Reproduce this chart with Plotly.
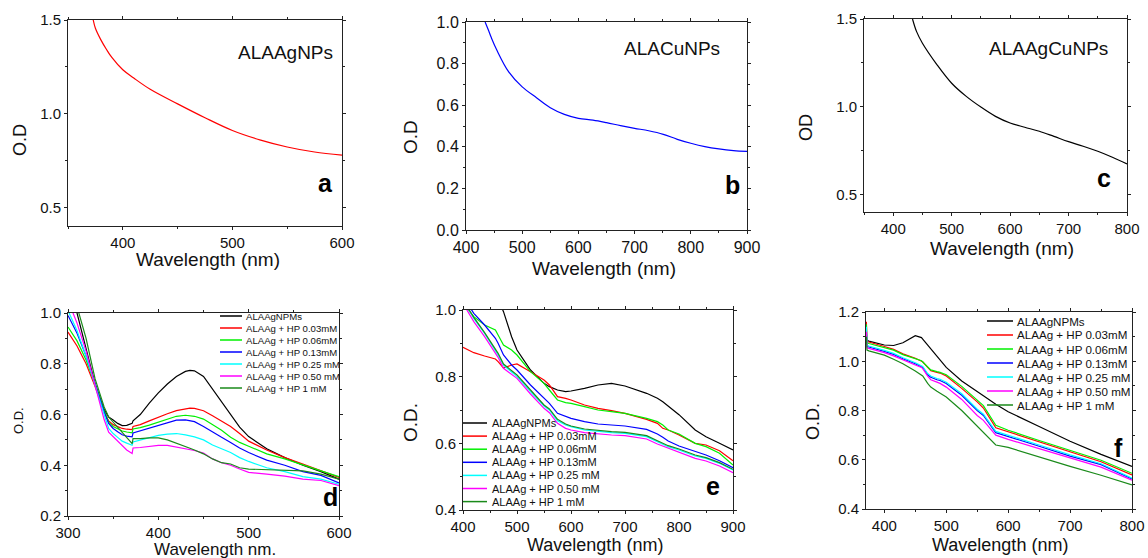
import plotly.graph_objects as go

W, H = 1148, 558
FONT = "Liberation Sans, Arial, sans-serif"

# ---------------- data ----------------
# panel a : ALAAgNPs
wl_a = [373, 375, 380, 385, 390, 400, 410, 425, 450, 475, 500, 525, 550, 575, 600]
od_a = [1.50, 1.456, 1.394, 1.344, 1.30, 1.234, 1.19, 1.13, 1.052, 0.978, 0.91, 0.86, 0.822, 0.795, 0.778]

# panel b : ALACuNPs
wl_b = [434, 440, 445, 455, 476, 500, 526, 550, 575, 600, 626, 650, 675, 700, 725, 751, 776, 800, 825, 850, 876, 900]
od_b = [1.0, 0.96, 0.925, 0.864, 0.76, 0.688, 0.635, 0.588, 0.556, 0.537, 0.528, 0.516, 0.502, 0.489, 0.477, 0.46, 0.436, 0.417, 0.401, 0.39, 0.382, 0.378]

# panel c : ALAAgCuNPs
wl_c = [433, 440, 450, 475, 500, 525, 550, 575, 600, 625, 650, 675, 700, 725, 750, 775, 800]
od_c = [1.5, 1.428, 1.362, 1.239, 1.134, 1.059, 0.998, 0.945, 0.907, 0.883, 0.86, 0.831, 0.801, 0.775, 0.746, 0.712, 0.674]

series_names = ["ALAAgNPMs", "ALAAg + HP 0.03mM", "ALAAg + HP 0.06mM", "ALAAg + HP 0.13mM",
                "ALAAg + HP 0.25 mM", "ALAAg + HP 0.50 mM", "ALAAg + HP 1 mM"]
series_colors = ["#000000", "#ff0000", "#00f000", "#0000ff", "#00ffff", "#ff00ff", "#1a8a1a"]

# panel d
wl_d = [300, 310, 320, 330, 340, 345, 350, 355, 360, 365, 371, 372, 380, 390, 400, 410, 420, 430, 435,
        440, 450, 460, 470, 480, 490, 500, 520, 540, 560, 580, 600]
d_black = [1.20, 1.00, 0.86, 0.72, 0.62, 0.59, 0.578, 0.565, 0.556, 0.557, 0.565, 0.575, 0.60, 0.645, 0.685,
           0.72, 0.75, 0.77, 0.774, 0.772, 0.75, 0.70, 0.65, 0.60, 0.55, 0.513, 0.465, 0.43, 0.40, 0.375, 0.345]
d_003 = [0.925, 0.87, 0.80, 0.71, 0.61, 0.575, 0.56, 0.552, 0.545, 0.542, 0.54, 0.553, 0.56, 0.575, 0.59,
         0.603, 0.615, 0.623, 0.625, 0.624, 0.615, 0.595, 0.575, 0.553, 0.525, 0.495, 0.46, 0.43, 0.405, 0.38, 0.352]
d_006 = [0.945, 0.89, 0.815, 0.72, 0.615, 0.57, 0.553, 0.543, 0.535, 0.531, 0.528, 0.543, 0.548, 0.558, 0.57,
         0.582, 0.593, 0.597, 0.596, 0.593, 0.582, 0.56, 0.538, 0.51, 0.49, 0.475, 0.445, 0.425, 0.40, 0.378, 0.355]
d_013 = [0.99, 0.92, 0.83, 0.72, 0.61, 0.565, 0.545, 0.532, 0.52, 0.515, 0.512, 0.527, 0.535, 0.545, 0.555,
         0.567, 0.578, 0.579, 0.577, 0.572, 0.553, 0.53, 0.51, 0.49, 0.468, 0.45, 0.42, 0.40, 0.375, 0.36, 0.33]
d_025 = [1.01, 0.93, 0.83, 0.71, 0.60, 0.545, 0.525, 0.51, 0.495, 0.487, 0.479, 0.492, 0.50, 0.51, 0.518,
         0.523, 0.525, 0.52, 0.516, 0.512, 0.50, 0.48, 0.465, 0.45, 0.43, 0.415, 0.39, 0.375, 0.355, 0.345, 0.325]
d_050 = [1.05, 0.96, 0.85, 0.72, 0.58, 0.53, 0.512, 0.492, 0.475, 0.46, 0.446, 0.468, 0.47, 0.475, 0.478,
         0.478, 0.472, 0.465, 0.462, 0.458, 0.448, 0.425, 0.41, 0.40, 0.385, 0.372, 0.365, 0.357, 0.345, 0.34, 0.32]
d_1 = [1.15, 1.03, 0.90, 0.74, 0.63, 0.59, 0.57, 0.55, 0.53, 0.51, 0.485, 0.505, 0.505, 0.508, 0.508,
       0.50, 0.488, 0.474, 0.467, 0.46, 0.445, 0.425, 0.41, 0.405, 0.39, 0.385, 0.382, 0.38, 0.378, 0.365, 0.345]

# panel e
wl_e = [400, 420, 440, 460, 465, 475, 490, 500, 525, 550, 560, 575, 590, 600, 625, 650, 675, 700,
        740, 760, 770, 780, 800, 830, 850, 875, 900]
e_black = [1.40, 1.25, 1.12, 1.05, 1.03, 0.995, 0.92, 0.88, 0.82, 0.78, 0.77, 0.76, 0.755, 0.757, 0.765,
           0.775, 0.78, 0.772, 0.75, 0.735, 0.725, 0.712, 0.686, 0.64, 0.62, 0.60, 0.58]
e_003 = [0.888, 0.872, 0.862, 0.853, 0.845, 0.826, 0.835, 0.838, 0.815, 0.79, 0.775, 0.74, 0.735, 0.73, 0.715,
         0.705, 0.698, 0.69, 0.672, 0.66, 0.645, 0.64, 0.625, 0.60, 0.595, 0.578, 0.548]
e_006 = [1.02, 0.98, 0.955, 0.94, 0.925, 0.895, 0.88, 0.865, 0.815, 0.78, 0.76, 0.73, 0.722, 0.72, 0.71,
         0.70, 0.695, 0.69, 0.675, 0.665, 0.655, 0.64, 0.628, 0.60, 0.59, 0.57, 0.535]
e_013 = [1.04, 0.99, 0.955, 0.915, 0.90, 0.865, 0.835, 0.82, 0.775, 0.735, 0.72, 0.69, 0.68, 0.675, 0.665,
         0.658, 0.655, 0.652, 0.642, 0.628, 0.618, 0.607, 0.592, 0.575, 0.565, 0.548, 0.527]
e_025 = [1.03, 0.975, 0.93, 0.88, 0.865, 0.835, 0.815, 0.80, 0.755, 0.712, 0.70, 0.668, 0.655, 0.65, 0.64,
         0.635, 0.632, 0.63, 0.62, 0.605, 0.597, 0.59, 0.58, 0.562, 0.555, 0.54, 0.52]
e_050 = [1.02, 0.965, 0.92, 0.872, 0.858, 0.825, 0.808, 0.795, 0.748, 0.705, 0.692, 0.66, 0.645, 0.64, 0.632,
         0.628, 0.625, 0.623, 0.613, 0.598, 0.592, 0.585, 0.574, 0.555, 0.547, 0.532, 0.512]
e_1 = [1.03, 0.978, 0.932, 0.885, 0.87, 0.838, 0.818, 0.805, 0.76, 0.715, 0.703, 0.672, 0.658, 0.652, 0.643,
       0.638, 0.635, 0.633, 0.623, 0.608, 0.60, 0.593, 0.583, 0.565, 0.557, 0.542, 0.522]

# panel f
wl_f = [371, 372, 375, 390, 400, 415, 430, 450, 460, 462, 470, 475, 485, 490, 500, 525, 550, 560, 580,
        600, 650, 700, 750, 800]
f_black = [1.09, 1.085, 1.082, 1.072, 1.066, 1.064, 1.075, 1.104, 1.096, 1.09, 1.065, 1.05, 1.02, 1.005,
           0.975, 0.92, 0.875, 0.86, 0.825, 0.795, 0.735, 0.675, 0.622, 0.573]
f_003 = [1.16, 1.08, 1.078, 1.068, 1.06, 1.048, 1.03, 1.012, 1.003, 0.998, 0.975, 0.962, 0.955, 0.952,
         0.94, 0.89, 0.835, 0.81, 0.73, 0.714, 0.672, 0.632, 0.592, 0.538]
f_006 = [1.15, 1.075, 1.072, 1.062, 1.055, 1.045, 1.027, 1.01, 1.002, 0.997, 0.975, 0.965, 0.958, 0.955,
         0.945, 0.898, 0.842, 0.82, 0.74, 0.72, 0.678, 0.637, 0.598, 0.545]
f_013 = [1.13, 1.06, 1.058, 1.048, 1.04, 1.028, 1.01, 0.99, 0.98, 0.975, 0.945, 0.935, 0.925, 0.922,
         0.91, 0.862, 0.80, 0.78, 0.71, 0.695, 0.655, 0.615, 0.58, 0.522]
f_025 = [1.14, 1.065, 1.062, 1.052, 1.044, 1.032, 1.014, 0.994, 0.984, 0.979, 0.95, 0.94, 0.93, 0.927,
         0.915, 0.868, 0.805, 0.785, 0.715, 0.70, 0.66, 0.62, 0.584, 0.525]
f_050 = [1.12, 1.055, 1.052, 1.043, 1.035, 1.022, 1.005, 0.985, 0.975, 0.97, 0.94, 0.925, 0.915, 0.91,
         0.895, 0.845, 0.78, 0.76, 0.70, 0.683, 0.645, 0.607, 0.57, 0.517]
f_1 = [1.10, 1.045, 1.042, 1.033, 1.025, 1.008, 0.99, 0.96, 0.945, 0.94, 0.91, 0.895, 0.878, 0.87,
       0.855, 0.80, 0.735, 0.71, 0.66, 0.65, 0.61, 0.573, 0.537, 0.498]

x_titles = ["Wavelength (nm)", "Wavelength (nm)", "Wavelength (nm)",
            "Wavelength nm.", "Wavelength (nm)", "Wavelength (nm)"]
y_titles = ["O.D", "O.D", "OD", "O.D.", "O.D.", "O.D."]
panel_letters = ["a", "b", "c", "d", "e", "f"]
sample_labels = ["ALAAgNPs", "ALACuNPs", "ALAAgCuNPs"]

# ---------------- layout geometry (pixels) ----------------
def fx(p):
    return p / W


def fy(p):
    return 1 - p / H


panels = [
    dict(box=(68, 342, 20, 226), xr=[350, 600], yr=[0.4, 1.5], ydt=0.5, ymin=0.25, tf=15,
         xt=(208, 259, 19), yt=(20, 140, 18), let=(325, 183)),
    dict(box=(466, 747, 22, 230), xr=[400, 900], yr=[0.0, 1.0], ydt=0.2, ymin=0.1, tf=16,
         xt=(604, 268, 19), yt=(410, 137, 19), let=(732, 185)),
    dict(box=(864, 1127, 19, 212), xr=[350, 800], yr=[0.4, 1.5], ydt=0.5, ymin=0.25, tf=15,
         xt=(1002, 248, 19), yt=(806, 128, 18), let=(1104, 178)),
    dict(box=(68, 339, 313, 516), xr=[300, 600], yr=[0.2, 1.0], ydt=0.2, ymin=0.1, tf=15,
         xt=(215, 549.5, 17), yt=(18, 421, 13), let=(330, 497)),
    dict(box=(463, 733, 310, 510), xr=[400, 900], yr=[0.4, 1.0], ydt=0.2, ymin=0.1, tf=15,
         xt=(595, 545, 18), yt=(410, 423, 19), let=(713, 486)),
    dict(box=(866, 1132, 312, 509), xr=[370.4, 800], yr=[0.4, 1.2], ydt=0.2, ymin=0.1, tf=15,
         xt=(1000, 545, 18), yt=(813, 422, 18), let=(1118, 448)),
]

fig = go.Figure()
annotations = []
shapes = []

for i, p in enumerate(panels):
    k = "" if i == 0 else str(i + 1)
    x0, x1, y0, y1 = p["box"]
    common = dict(showline=True, linecolor="#222", linewidth=1, mirror="ticks",
                  ticks="outside", ticklen=3, tickwidth=1, tickcolor="#222",
                  showgrid=False, zeroline=False, automargin=False,
                  tickfont=dict(family=FONT, size=p["tf"], color="#111"))
    fig.layout["xaxis" + k] = dict(domain=[fx(x0), fx(x1)], range=p["xr"], anchor="y" + k,
                                  dtick=100, tick0=0,
                                  minor=dict(dtick=50, tick0=0, ticks="outside", ticklen=2,
                                             tickcolor="#222"), **common)
    fig.layout["yaxis" + k] = dict(domain=[fy(y1), fy(y0)], range=p["yr"], anchor="x" + k,
                                  dtick=p["ydt"], tick0=0, tickformat=".1f",
                                  minor=dict(dtick=p["ymin"], tick0=0, ticks="outside", ticklen=2,
                                             tickcolor="#222"), **common)
    xt = p["xt"]
    annotations.append(dict(text=x_titles[i], x=fx(xt[0]), y=fy(xt[1]), xref="paper", yref="paper",
                            showarrow=False, xanchor="center", yanchor="middle", borderpad=0,
                            font=dict(family=FONT, size=xt[2], color="#111")))
    yt = p["yt"]
    annotations.append(dict(text=y_titles[i], x=fx(yt[0]), y=fy(yt[1]), xref="paper", yref="paper",
                            showarrow=False, xanchor="center", yanchor="middle", textangle=-90,
                            font=dict(family=FONT, size=yt[2], color="#111")))
    lt = p["let"]
    annotations.append(dict(text="<b>" + panel_letters[i] + "</b>", x=fx(lt[0]), y=fy(lt[1]),
                            xref="paper", yref="paper", showarrow=False,
                            xanchor="center", yanchor="middle",
                            font=dict(family=FONT, size=25, color="#000")))

# top row
fig.add_trace(go.Scatter(x=wl_a, y=od_a, mode="lines", line=dict(color="#ff0000", width=1.2),
                         xaxis="x", yaxis="y", showlegend=False, line_shape="spline"))
fig.add_trace(go.Scatter(x=wl_b, y=od_b, mode="lines", line=dict(color="#0000ff", width=1.2),
                         xaxis="x2", yaxis="y2", showlegend=False, line_shape="spline"))
fig.add_trace(go.Scatter(x=wl_c, y=od_c, mode="lines", line=dict(color="#000000", width=1.2),
                         xaxis="x3", yaxis="y3", showlegend=False, line_shape="spline"))

sample_pos = [(285, 53), (672, 48), (1048, 48)]
for s, (sx, sy) in zip(sample_labels, sample_pos):
    annotations.append(dict(text=s, x=fx(sx), y=fy(sy), xref="paper", yref="paper", showarrow=False,
                            xanchor="center", yanchor="middle",
                            font=dict(family=FONT, size=19, color="#111")))

# bottom row
bottom = [
    ("x4", "y4", wl_d, [d_black, d_003, d_006, d_013, d_025, d_050, d_1]),
    ("x5", "y5", wl_e, [e_black, e_003, e_006, e_013, e_025, e_050, e_1]),
    ("x6", "y6", wl_f, [f_black, f_003, f_006, f_013, f_025, f_050, f_1]),
]
for xa, ya, wl, sets in bottom:
    for name, col, vals in zip(series_names, series_colors, sets):
        fig.add_trace(go.Scatter(x=wl, y=vals, mode="lines", name=name,
                                 line=dict(color=col, width=1.2), xaxis=xa, yaxis=ya,
                                 showlegend=False))

# custom compact legends (line key x0, x1, text x, first row y, row step, font size)
legends = [(220, 242, 244, 316, 12.0, 9.6),
           (463, 487, 490, 423, 13.1, 11.0),
           (987, 1013, 1015, 321, 14.0, 11.6)]
for lx0, lx1, tx, ty0, step, fs in legends:
    for j, (name, col) in enumerate(zip(series_names, series_colors)):
        yy = ty0 + j * step
        shapes.append(dict(type="line", xref="paper", yref="paper", x0=fx(lx0), x1=fx(lx1),
                           y0=fy(yy), y1=fy(yy), line=dict(color=col, width=1.5)))
        annotations.append(dict(text=name, x=fx(tx), y=fy(yy), xref="paper", yref="paper",
                                showarrow=False, xanchor="left", yanchor="middle",
                                font=dict(family=FONT, size=fs, color="#111")))

fig.update_layout(width=W, height=H, margin=dict(l=0, r=0, t=0, b=0, autoexpand=False),
                  paper_bgcolor="white", plot_bgcolor="white",
                  annotations=annotations, shapes=shapes, showlegend=False)

fig.write_html("out.html", config={"displayModeBar": False},
               post_script="document.body.style.margin='0';document.body.style.overflow='hidden';")
